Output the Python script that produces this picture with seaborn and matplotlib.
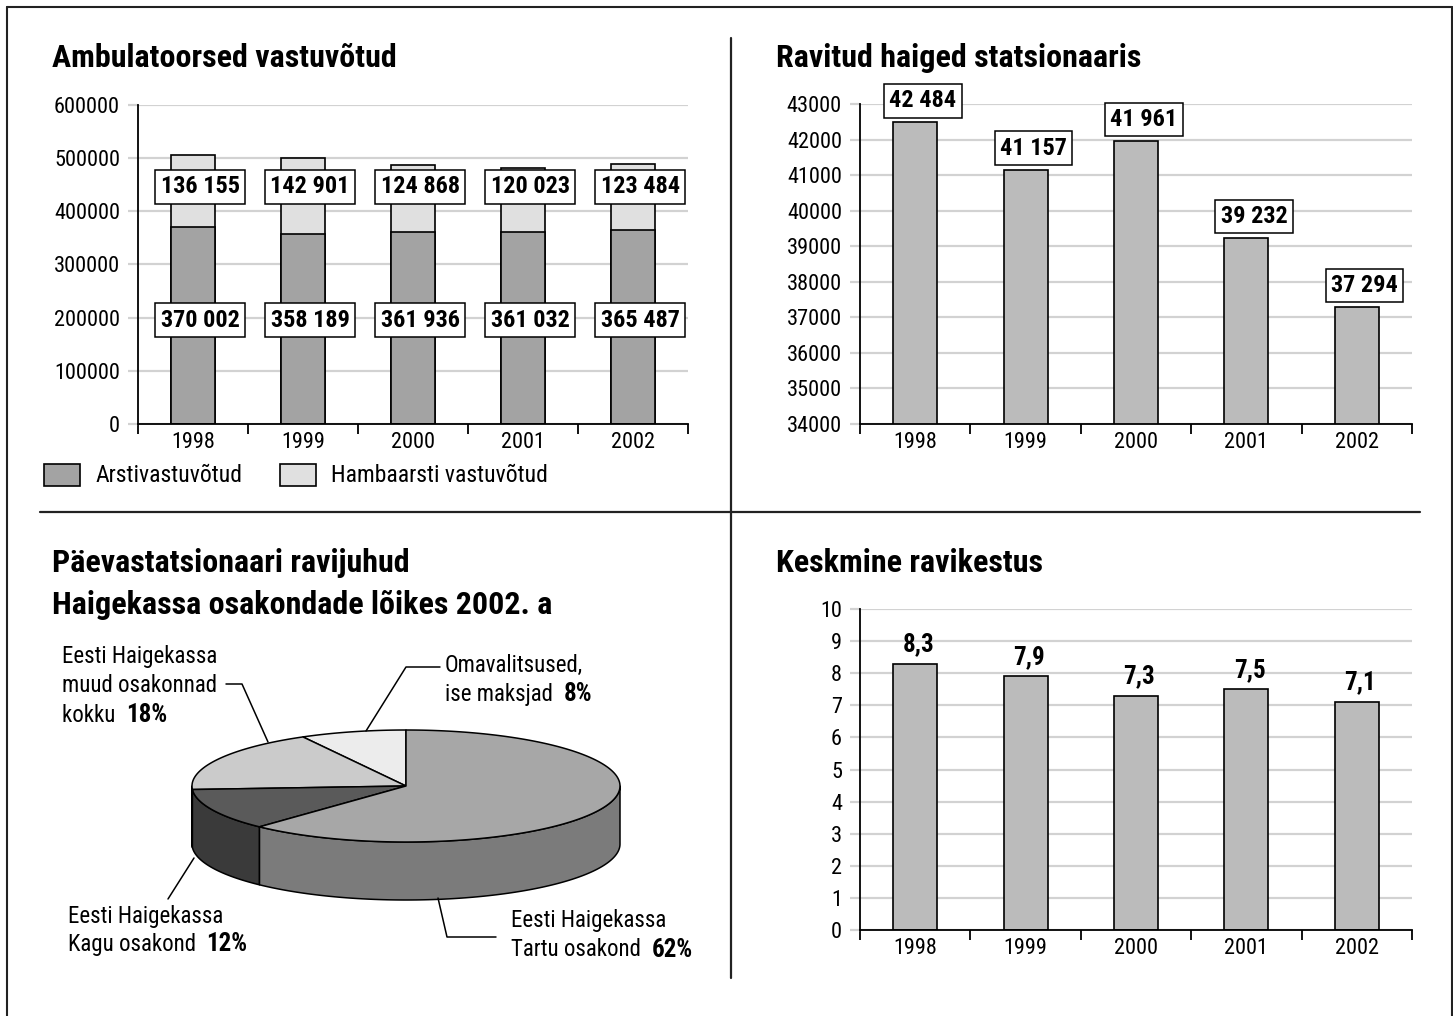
import numpy as np
import matplotlib
matplotlib.use("Agg")
import matplotlib.pyplot as plt
from matplotlib import font_manager as fm
from matplotlib.patches import Polygon, Rectangle
import seaborn as sns

# ---- data ----
years = ["1998", "1999", "2000", "2001", "2002"]
arsti = [370002, 358189, 361936, 361032, 365487]
hambaarsti = [136155, 142901, 124868, 120023, 123484]
ravitud = [42484, 41157, 41961, 39232, 37294]
ravikestus = [8.3, 7.9, 7.3, 7.5, 7.1]

# pie slices, counter-clockwise from 12 o'clock
pie_names = ["Omavalitsused", "Muud osakonnad", "Kagu osakond", "Tartu osakond"]
pie_shares = [8, 18, 12, 62]

titles = ["Ambulatoorsed vastuvõtud", "Ravitud haiged statsionaaris",
          "Päevastatsionaari ravijuhud", "Haigekassa osakondade lõikes 2002. a",
          "Keskmine ravikestus"]
legend_names = ["Arstivastuvõtud", "Hambaarsti vastuvõtud"]

# ---- style ----
sns.set_theme(style="white")


def pick_narrow_font():
    """Return (family, stretch) of the narrowest-looking installed sans face."""
    entries = fm.fontManager.ttflist
    names = {f.name for f in entries}
    for cand in ["Liberation Sans Narrow", "Roboto Condensed", "Arial Narrow",
                 "Noto Sans Condensed", "Open Sans Condensed",
                 "DejaVu Sans Condensed"]:
        if cand in names:
            return cand, "normal"
    for fam in ["Roboto", "Noto Sans", "Open Sans", "DejaVu Sans"]:
        for f in entries:
            if f.name == fam and str(f.stretch) in ("condensed", "semi-condensed",
                                                     "extra-condensed"):
                return fam, "condensed"
    for f in entries:
        if "Condensed" in f.name or "Narrow" in f.name:
            return f.name, "normal"
    return "Liberation Sans", "normal"


FAMILY, STRETCH = pick_narrow_font()
plt.rcParams["font.family"] = [FAMILY, "DejaVu Sans"]
plt.rcParams["font.stretch"] = STRETCH
for key in ["text.color", "axes.labelcolor", "xtick.color", "ytick.color"]:
    plt.rcParams[key] = "black"

DARK = "#a3a3a3"
LIGHT = "#e0e0e0"
BAR = "#bbbbbb"
GRID = "#d2d2d2"
pie_top = ["#ececec", "#cbcbcb", "#5a5a5a", "#a7a7a7"]
pie_side = ["#c0c0c0", "#9a9a9a", "#3a3a3a", "#7b7b7b"]

W, H = 1453, 1016
fig = plt.figure(figsize=(W / 100, H / 100), dpi=100)

# overlay in pixel units for frame, separators, legend and pie
ov = fig.add_axes([0, 0, 1, 1])
ov.set_xlim(0, W)
ov.set_ylim(H, 0)
ov.axis("off")


def px_axes(x0, y0, x1, y1):
    return fig.add_axes([x0 / W, 1 - y1 / H, (x1 - x0) / W, (y1 - y0) / H])


TICK_FS = 16
VAL_FS = 17.5
TFS = 23


def style_bar_axes(ax, yticks, ylabels):
    ax.set_xlim(-0.5, len(years) - 0.5)
    ax.set_yticks(yticks)
    ax.set_yticklabels(ylabels)
    ax.set_ylim(yticks[0], yticks[-1])
    ax.set_axisbelow(True)
    ax.yaxis.grid(True, color=GRID, lw=1.6)
    ax.xaxis.grid(False)
    for s in ["top", "right"]:
        ax.spines[s].set_visible(False)
    for s in ["left", "bottom"]:
        ax.spines[s].set_color("black")
        ax.spines[s].set_linewidth(1.3)
    ax.set_xticks(range(len(years)))
    ax.set_xticklabels(years)
    ax.set_xticks(np.arange(-0.5, len(years)), minor=True)
    ax.tick_params(axis="x", which="major", length=0, pad=6, labelsize=TICK_FS)
    ax.tick_params(axis="x", which="minor", length=7, width=1.3, color="black",
                   direction="out", bottom=True)
    ax.tick_params(axis="y", length=7, width=1.6, color=GRID, pad=6,
                   labelsize=TICK_FS, left=True)
    ax.set_xlabel("")
    ax.set_ylabel("")
    ax.set_facecolor("white")


def fmt(v):
    return f"{v:,}".replace(",", " ")


box = dict(boxstyle="square,pad=0.22", fc="white", ec="black", lw=1.1)

# ---- panel 1: stacked bars ----
ax1 = px_axes(138, 105, 688, 424)
totals = [a + h for a, h in zip(arsti, hambaarsti)]
sns.barplot(x=years, y=totals, order=years, color=LIGHT, saturation=1, width=0.4,
            edgecolor="black", linewidth=1.2, ax=ax1)
sns.barplot(x=years, y=arsti, order=years, color=DARK, saturation=1, width=0.4,
            edgecolor="black", linewidth=1.2, ax=ax1)
style_bar_axes(ax1, list(range(0, 600001, 100000)),
               [str(v) for v in range(0, 600001, 100000)])
for i, (a, h) in enumerate(zip(arsti, hambaarsti)):
    ax1.text(i + 0.065, 195000, fmt(a), ha="center", va="center",
             fontsize=VAL_FS, fontweight="bold", bbox=box, zorder=5)
    ax1.text(i + 0.065, 446000, fmt(h), ha="center", va="center",
             fontsize=VAL_FS, fontweight="bold", bbox=box, zorder=5)

# legend
for (x0, name, col) in [(44, legend_names[0], DARK), (280, legend_names[1], LIGHT)]:
    ov.add_patch(Rectangle((x0, 464), 36, 22, fc=col, ec="black", lw=1.2))
    ov.text(x0 + 51, 476, name, ha="left", va="center", fontsize=17)

# ---- panel 2 ----
ax2 = px_axes(860, 104, 1412, 424)
sns.barplot(x=years, y=ravitud, order=years, color=BAR, saturation=1, width=0.4,
            edgecolor="black", linewidth=1.2, ax=ax2)
style_bar_axes(ax2, list(range(34000, 43001, 1000)),
               [str(v) for v in range(34000, 43001, 1000)])
for i, v in enumerate(ravitud):
    ax2.annotate(fmt(v), xy=(i + 0.07, v), xytext=(0, 15.5), textcoords="offset points",
                 ha="center", va="center", fontsize=VAL_FS, fontweight="bold",
                 bbox=box, zorder=5, annotation_clip=False)

# ---- panel 4 ----
ax4 = px_axes(860, 609, 1412, 930)
sns.barplot(x=years, y=ravikestus, order=years, color=BAR, saturation=1, width=0.4,
            edgecolor="black", linewidth=1.2, ax=ax4)
style_bar_axes(ax4, list(range(0, 11)), [str(v) for v in range(0, 11)])
for i, v in enumerate(ravikestus):
    ax4.annotate(f"{v:.1f}".replace(".", ","), xy=(i + 0.03, v), xytext=(0, 14),
                 textcoords="offset points", ha="center", va="center",
                 fontsize=18, fontweight="bold", annotation_clip=False)

# ---- titles ----
fig.text(52 / W, 1 - 58 / H, titles[0], fontsize=TFS, fontweight="bold", va="center")
fig.text(776 / W, 1 - 58 / H, titles[1], fontsize=TFS, fontweight="bold", va="center")
fig.text(52 / W, 1 - 563 / H, titles[2], fontsize=TFS, fontweight="bold", va="center")
fig.text(52 / W, 1 - 605 / H, titles[3], fontsize=TFS, fontweight="bold", va="center")
fig.text(776 / W, 1 - 563 / H, titles[4], fontsize=TFS, fontweight="bold", va="center")

# ---- frame and separators ----
LC = "#222222"
ov.plot([7, 7], [7, H], color=LC, lw=1.5)
ov.plot([7, W - 1], [7, 7], color=LC, lw=1.5)
ov.plot([W - 1.5, W - 1.5], [7, H], color=LC, lw=1.5)
ov.plot([731, 731], [38, 978], color=LC, lw=1.6)
ov.plot([40, 1420], [512, 512], color=LC, lw=1.6)

# ---- 3D pie ----
cx, cy, ra, rb, depth = 406, 786, 214, 56, 58


def ell(t):
    return cx + ra * np.cos(t), cy - rb * np.sin(t)


edges = 90 + 360 * np.concatenate([[0], np.cumsum(pie_shares)]) / sum(pie_shares)
# side walls (front half only: parameter angle between 180 and 360 degrees)
for k in range(len(pie_shares)):
    a0, a1 = edges[k], edges[k + 1]
    for off in (0, 360):
        s0, s1 = max(a0, 180 + off), min(a1, 360 + off)
        if s1 <= s0:
            continue
        t = np.radians(np.linspace(s0, s1, 120))
        x, y = ell(t)
        pts = np.column_stack([np.r_[x, x[::-1]], np.r_[y, y[::-1] + depth]])
        ov.add_patch(Polygon(pts, closed=True, fc=pie_side[k], ec="black", lw=1.1,
                             joinstyle="round"))
# top faces
for k in range(len(pie_shares)):
    t = np.radians(np.linspace(edges[k], edges[k + 1], 200))
    x, y = ell(t)
    pts = np.column_stack([np.r_[cx, x], np.r_[cy, y]])
    ov.add_patch(Polygon(pts, closed=True, fc=pie_top[k], ec="black", lw=1.1,
                         joinstyle="round"))

# pie labels with leader lines
PFS = 16.5
PFS_B = 18
renderer = fig.canvas.get_renderer()


def two_part(x, y, normal, bold):
    t1 = ov.text(x, y, normal, ha="left", va="center", fontsize=PFS)
    bb = t1.get_window_extent(renderer=renderer)
    xe = ov.transData.inverted().transform((bb.x1, 0))[0]
    ov.text(xe, y, bold, ha="left", va="center", fontsize=PFS_B, fontweight="bold")


def pct(v):
    return f"{v}%"


# Omavalitsused
ov.text(445, 665, "Omavalitsused,", ha="left", va="center", fontsize=PFS)
two_part(445, 694, "ise maksjad  ", pct(pie_shares[0]))
ov.plot([440, 406, 366], [667, 667, 731], color="black", lw=1.1)
# muud osakonnad
ov.text(62, 657, "Eesti Haigekassa", ha="left", va="center", fontsize=PFS)
ov.text(62, 686, "muud osakonnad", ha="left", va="center", fontsize=PFS)
two_part(62, 715, "kokku  ", pct(pie_shares[1]))
ov.plot([226, 242, 268], [684, 684, 742], color="black", lw=1.1)
# Kagu
ov.text(68, 916, "Eesti Haigekassa", ha="left", va="center", fontsize=PFS)
two_part(68, 944, "Kagu osakond  ", pct(pie_shares[2]))
ov.plot([168, 194], [899, 858], color="black", lw=1.1)
# Tartu
ov.text(511, 921, "Eesti Haigekassa", ha="left", va="center", fontsize=PFS)
two_part(511, 950, "Tartu osakond  ", pct(pie_shares[3]))
ov.plot([438, 447, 496], [898, 937, 937], color="black", lw=1.1)

fig.savefig("out.png", dpi=100, facecolor="white")
